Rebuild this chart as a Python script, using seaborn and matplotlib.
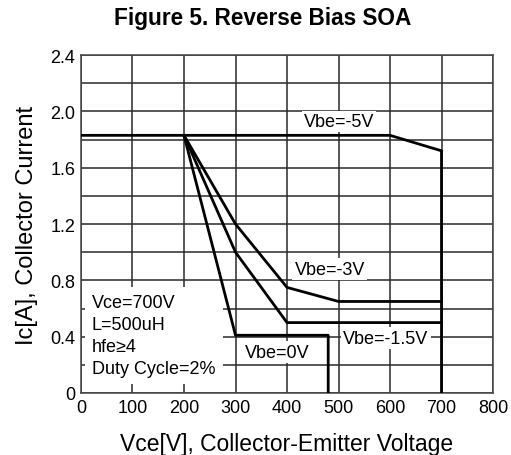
import numpy as np
import matplotlib
matplotlib.use('Agg')
import matplotlib.pyplot as plt
import seaborn as sns

# curve data
vbe5_x = [0, 600, 700, 700]
vbe5_y = [1.83, 1.83, 1.72, 0]
vbe3_x = [200, 300, 400, 500, 700]
vbe3_y = [1.83, 1.2, 0.75, 0.65, 0.65]
vbe15_x = [200, 300, 400, 700]
vbe15_y = [1.83, 1.0, 0.5, 0.5]
vbe0_x = [200, 300, 480, 480]
vbe0_y = [1.83, 0.41, 0.41, 0]

xticks = [0, 100, 200, 300, 400, 500, 600, 700, 800]
yticks = [0, 0.4, 0.8, 1.2, 1.6, 2.0, 2.4]
ytick_labels = ['0', '0.4', '0.8', '1.2', '1.6', '2.0', '2.4']

sns.set_style('white')
plt.rcParams['font.family'] = ['Liberation Sans', 'DejaVu Sans']
plt.rcParams['text.color'] = 'black'
plt.rcParams['axes.labelcolor'] = 'black'

fig = plt.figure(figsize=(5.11, 4.56), dpi=100)
ax = fig.add_axes([0.1585, 0.136, 0.8063, 0.741])

for xs, ys in [(vbe5_x, vbe5_y), (vbe3_x, vbe3_y), (vbe15_x, vbe15_y), (vbe0_x, vbe0_y)]:
    sns.lineplot(x=xs, y=ys, sort=False, estimator=None, color='black',
                 linewidth=2.0, ax=ax, zorder=5)

ax.set_xlim(0, 800)
ax.set_ylim(0, 2.4)
ax.set_xticks(xticks)
ax.set_yticks(yticks)
ax.set_yticklabels(ytick_labels)
ax.set_yticks(np.arange(0, 2.41, 0.2), minor=True)
ax.grid(True, which='both', color='#2a2a2a', linewidth=1.1, zorder=1)
ax.set_axisbelow(True)
ax.tick_params(which='both', length=0, labelsize=13, colors='black', pad=4)
for s in ax.spines.values():
    s.set_color('#444444')
    s.set_linewidth(1.1)

ax.set_xlabel('Vce[V], Collector-Emitter Voltage', fontsize=16.5, labelpad=12)
ax.set_ylabel('Ic[A], Collector Current', fontsize=17, labelpad=9)
fig.suptitle('Figure 5. Reverse Bias SOA', x=0.515, y=0.96, va='center',
             fontsize=16.3, fontweight='bold', color='black')

box = dict(facecolor='white', edgecolor='none', pad=1.5)
ax.text(21, 0.41, 'Vce=700V\nL=500uH\nhfe\u22654\nDuty Cycle=2%', fontsize=13,
        va='center', ha='left', linespacing=1.38, zorder=3,
        bbox=dict(facecolor='white', edgecolor='none', boxstyle='square,pad=0.4'))
ax.text(501, 1.93, 'Vbe=-5V', fontsize=13, ha='center', va='center', zorder=4, bbox=box)
ax.text(483, 0.88, 'Vbe=-3V', fontsize=13, ha='center', va='center', zorder=4, bbox=box)
ax.text(592, 0.39, 'Vbe=-1.5V', fontsize=13, ha='center', va='center', zorder=4, bbox=box)
ax.text(381, 0.29, 'Vbe=0V', fontsize=13, ha='center', va='center', zorder=4, bbox=box)

fig.savefig('out.png', dpi=100, facecolor='white')
